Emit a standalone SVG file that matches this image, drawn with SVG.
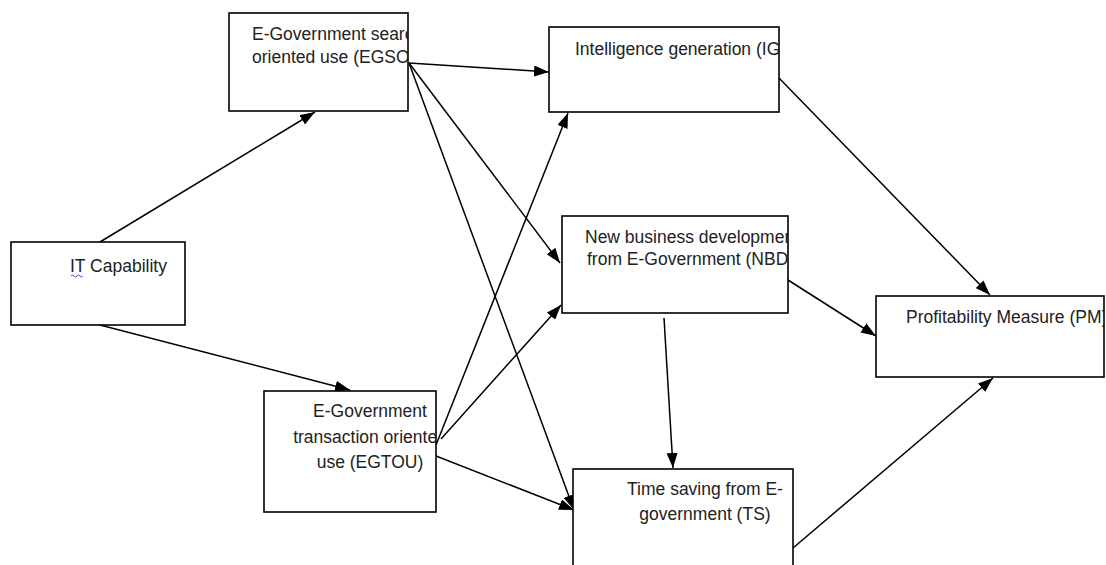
<svg xmlns="http://www.w3.org/2000/svg" width="1106" height="565" viewBox="0 0 1106 565">
<style>
.box{fill:#fff;stroke:#000;stroke-width:1.6}
.t{font-family:"Liberation Sans",Arial,sans-serif;font-size:17.5px;fill:#222}
.c{text-anchor:middle}
.e{stroke:#000;stroke-width:1.5;fill:none;marker-end:url(#ah)}
</style>
<defs>
<marker id="ah" viewBox="0 0 15 11" refX="15" refY="5.5" markerWidth="15" markerHeight="11" markerUnits="userSpaceOnUse" orient="auto">
<path d="M0,0 L15,5.5 L0,11 z" fill="#000"/>
</marker>
<clipPath id="cEGSOU"><rect x="229" y="13" width="179" height="98"/></clipPath>
<clipPath id="cIG"><rect x="549" y="27" width="230" height="85"/></clipPath>
<clipPath id="cNBD"><rect x="562" y="216" width="226" height="97"/></clipPath>
<clipPath id="cPM"><rect x="876" y="296" width="228" height="81"/></clipPath>
<clipPath id="cEGTOU"><rect x="264" y="391" width="172" height="121"/></clipPath>
<clipPath id="cTS"><rect x="573" y="469" width="220" height="100"/></clipPath>
</defs>
<rect width="1106" height="565" fill="#fff"/>
<g id="connectors">
<line class="e" x1="100" y1="242" x2="315" y2="112"/>
<line class="e" x1="100" y1="325" x2="350" y2="390"/>
<line class="e" x1="409" y1="63" x2="549" y2="72"/>
<line class="e" x1="409" y1="63" x2="560" y2="263"/>
<line class="e" x1="409" y1="63" x2="574" y2="510"/>
<line class="e" x1="436" y1="445" x2="568" y2="113"/>
<line class="e" x1="441" y1="439" x2="561" y2="305"/>
<line class="e" x1="436" y1="456" x2="574" y2="510"/>
<line class="e" x1="779" y1="78" x2="990" y2="295"/>
<line class="e" x1="788" y1="280" x2="876" y2="336"/>
<line class="e" x1="664" y1="318" x2="673" y2="468"/>
<line class="e" x1="793" y1="548" x2="993" y2="378"/>
</g>
<g id="IT">
<rect class="box" x="11" y="242" width="174" height="83"/>
<text class="t" x="70" y="272">IT Capability</text>
<path d="M71,276 q1.5,-2 3,0 t3,0 t3,0 t3,0" stroke="#3355dd" stroke-width="1" fill="none"/>
</g>
<g id="EGSOU">
<rect class="box" x="229" y="13" width="179" height="98"/>
<g clip-path="url(#cEGSOU)">
<text class="t" x="252" y="40">E-Government search</text>
<text class="t" x="252" y="63">oriented use (EGSOU)</text>
</g>
</g>
<g id="IG">
<rect class="box" x="549" y="27" width="230" height="85"/>
<g clip-path="url(#cIG)">
<text class="t" x="575" y="55">Intelligence generation (IG)</text>
</g>
</g>
<g id="NBD">
<rect class="box" x="562" y="216" width="226" height="97"/>
<g clip-path="url(#cNBD)">
<text class="t" x="585" y="243">New business development</text>
<text class="t" x="587" y="265">from E-Government (NBD)</text>
</g>
</g>
<g id="PM">
<rect class="box" x="876" y="296" width="228" height="81"/>
<g clip-path="url(#cPM)">
<text class="t" x="906" y="323">Profitability Measure (PM)</text>
</g>
</g>
<g id="EGTOU">
<rect class="box" x="264" y="391" width="172" height="121"/>
<g clip-path="url(#cEGTOU)">
<text class="t c" x="370" y="417">E-Government</text>
<text class="t c" x="370" y="443">transaction oriented</text>
<text class="t c" x="370" y="468">use (EGTOU)</text>
</g>
</g>
<g id="TS">
<rect class="box" x="573" y="469" width="220" height="100"/>
<g clip-path="url(#cTS)">
<text class="t c" x="705" y="495">Time saving from E-</text>
<text class="t c" x="705" y="520">government (TS)</text>
</g>
</g>
</svg>
